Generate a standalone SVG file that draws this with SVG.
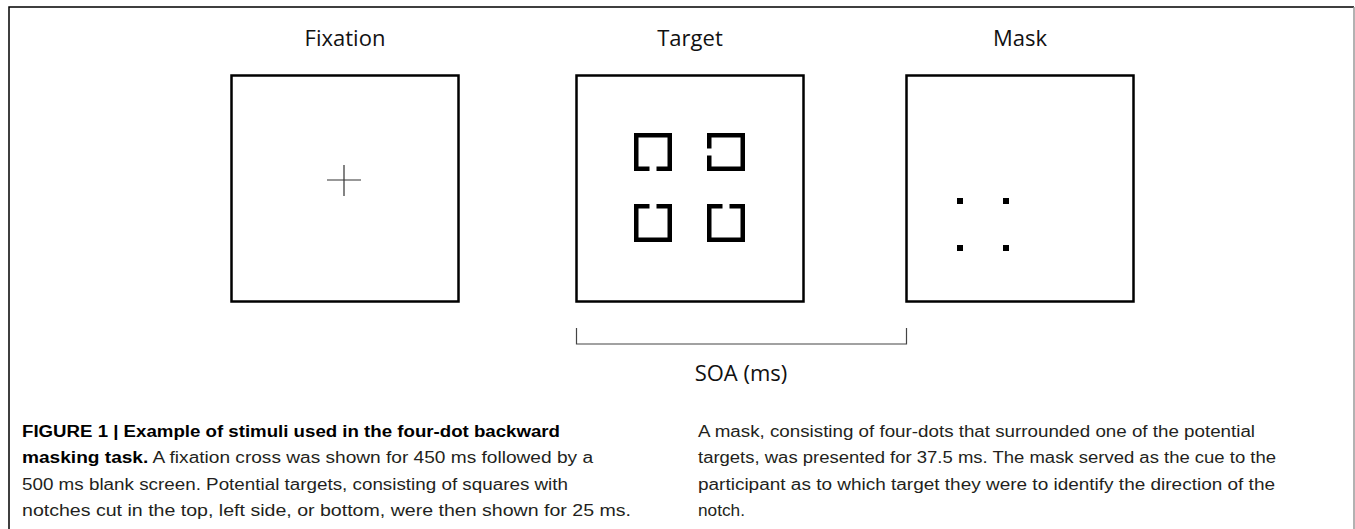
<svg xmlns="http://www.w3.org/2000/svg" width="1355" height="529" viewBox="0 0 1355 529">
<style>
.frame{fill:none;stroke:#000;stroke-width:2.5}
.title{font-family:"Open Sans",sans-serif;font-size:22px;fill:#111;text-anchor:middle}
.cap{font-family:"Liberation Sans",Arial,sans-serif;font-size:16px;fill:#231f20}
.bold{font-weight:bold;fill:#000}
.thin{fill:none;stroke:#444;stroke-width:1.2}
.notch{fill:none;stroke:#000;stroke-width:4.5;stroke-linejoin:miter}
</style>
<defs>
<path id="sq" class="notch" d="M -3.5,-16.75 H -16.75 V 16.75 H 16.75 V -16.75 H 3.5"/>
</defs>
<rect width="1355" height="529" fill="#fff"/>
<g id="border">
<path d="M 9,529 V 7 H 1354" fill="none" stroke="#000" stroke-width="1.5"/>
<line x1="1354" y1="7" x2="1354" y2="529" stroke="#999" stroke-width="1.5"/>
</g>
<g id="fixation">
<text class="title" x="345" y="46">Fixation</text>
<rect class="frame" x="231.5" y="75.5" width="227" height="226"/>
<path d="M 327,180 H 361 M 344,165 V 196" stroke="#333" stroke-width="1.2" fill="none"/>
</g>
<g id="target">
<text class="title" x="690" y="46">Target</text>
<rect class="frame" x="576.5" y="75.5" width="227" height="226"/>
<use href="#sq" transform="translate(653,152) rotate(180)"/>
<use href="#sq" transform="translate(726,152) rotate(-90)"/>
<use href="#sq" transform="translate(653,223)"/>
<use href="#sq" transform="translate(726,223)"/>
</g>
<g id="mask">
<text class="title" x="1020" y="46">Mask</text>
<rect class="frame" x="906.5" y="75.5" width="227" height="226"/>
<rect x="957" y="198" width="6" height="6" fill="#000"/>
<rect x="1003" y="198" width="6" height="6" fill="#000"/>
<rect x="957" y="245" width="6" height="6" fill="#000"/>
<rect x="1003" y="245" width="6" height="6" fill="#000"/>
</g>
<g id="connectors">
<path class="thin" d="M 576.5,328 V 344 H 906.5 V 328"/>
</g>
<g id="soa">
<text class="title" x="741" y="381">SOA (ms)</text>
</g>
<g id="caption">
<text class="cap bold" x="22" y="437" textLength="538" lengthAdjust="spacingAndGlyphs">FIGURE 1 | Example of stimuli used in the four-dot backward</text>
<text class="cap" x="22" y="463" textLength="571" lengthAdjust="spacingAndGlyphs"><tspan class="bold">masking task.</tspan> A fixation cross was shown for 450 ms followed by a</text>
<text class="cap" x="22" y="490" textLength="546" lengthAdjust="spacingAndGlyphs">500 ms blank screen. Potential targets, consisting of squares with</text>
<text class="cap" x="22" y="516" textLength="609" lengthAdjust="spacingAndGlyphs">notches cut in the top, left side, or bottom, were then shown for 25 ms.</text>
<text class="cap" x="698" y="437" textLength="557" lengthAdjust="spacingAndGlyphs">A mask, consisting of four-dots that surrounded one of the potential</text>
<text class="cap" x="698" y="463" textLength="578" lengthAdjust="spacingAndGlyphs">targets, was presented for 37.5 ms. The mask served as the cue to the</text>
<text class="cap" x="698" y="490" textLength="577" lengthAdjust="spacingAndGlyphs">participant as to which target they were to identify the direction of the</text>
<text class="cap" x="698" y="516" textLength="47" lengthAdjust="spacingAndGlyphs">notch.</text>
</g>
</svg>
